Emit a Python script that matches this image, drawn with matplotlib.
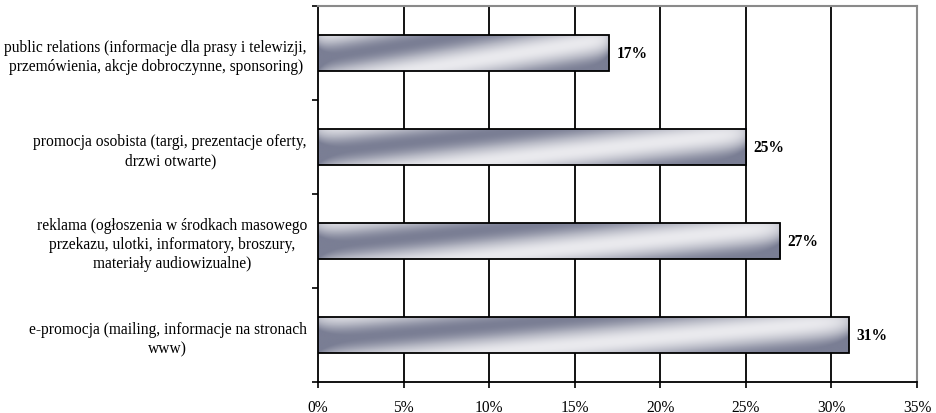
import numpy as np
import matplotlib
matplotlib.use("Agg")
import matplotlib.pyplot as plt
from matplotlib.patches import Rectangle

categories = [
    "public relations (informacje dla prasy i telewizji,\nprzemówienia, akcje dobroczynne, sponsoring)",
    "promocja osobista (targi, prezentacje oferty,\ndrzwi otwarte)",
    "reklama (ogłoszenia w środkach masowego\nprzekazu, ulotki, informatory, broszury,\nmateriały audiowizualne)",
    "e-promocja (mailing, informacje na stronach\nwww)",
]
values = [17, 25, 27, 31]
xticks = [0, 5, 10, 15, 20, 25, 30, 35]
xticklabels = [f"{v}%" for v in xticks]

plt.rcParams['font.family'] = ['Liberation Serif', 'DejaVu Serif']

fig = plt.figure(figsize=(9.36, 4.14), dpi=100)
ax = fig.add_axes([318/936, 1-383/414, (917-318)/936, (383-7)/414])

ypos = np.arange(len(categories))
h = 0.39

# gradient image (metallic diagonal sheen)
nu, nv = 400, 60
u = np.linspace(0, 1, nu)[None, :]
v = np.linspace(1, 0, nv)[:, None]  # row0 = top
phase = (v - 1.3*u - 0.33) / 1.5
t = 0.5 + 0.5*np.cos(2*np.pi*phase)   # 1 at dark band center
edge = np.exp(-u/0.02) + np.exp(-(1-u)/0.02)
t = np.clip(t + 0.35*edge, 0, 1)
light = np.array([0xea, 0xea, 0xee]) / 255
mid = np.array([0xb6, 0xb8, 0xc4]) / 255
dark = np.array([0x7a, 0x7e, 0x94]) / 255
tt = t[..., None]
img = np.where(tt < 0.5,
               light + (mid - light) * (tt / 0.5),
               mid + (dark - mid) * ((tt - 0.5) / 0.5))

for y, val in zip(ypos, values):
    rect = Rectangle((0, y-h/2), val, h, facecolor='none', edgecolor='black', lw=1.3, zorder=4)
    ax.add_patch(rect)
    im = ax.imshow(img, extent=[0, val, y+h/2, y-h/2], origin='upper', aspect='auto',
                   interpolation='bilinear', zorder=3)
    im.set_clip_path(rect)
    ax.text(val + 0.45, y, f"{val}%", ha='left', va='center', fontsize=11.2, fontweight='bold', zorder=5)

ax.set_xlim(0, 35)
ax.set_ylim(len(categories)-0.5, -0.5)
ax.set_aspect('auto')

for xv in xticks[1:-1]:
    ax.axvline(xv, color='black', lw=1.3, zorder=1)

ax.set_xticks(xticks)
ax.set_xticklabels(xticklabels, fontsize=11.2)
ax.set_yticks(ypos)
ax.set_yticklabels(categories, fontsize=11.2, multialignment='center', linespacing=1.25)
ax.set_yticks(np.arange(-0.5, len(categories)), minor=True)
ax.tick_params(axis='y', which='major', length=0, pad=8)
ax.tick_params(axis='y', which='minor', length=4, width=1.2, direction='out')
ax.tick_params(axis='x', which='major', length=4, width=1.2, direction='out', pad=8)

ax.spines['left'].set_linewidth(1.3)
ax.spines['bottom'].set_linewidth(1.3)
ax.spines['top'].set_color('#8a8a8a')
ax.spines['right'].set_color('#8a8a8a')
ax.spines['top'].set_linewidth(1.5)
ax.spines['right'].set_linewidth(1.5)

fig.savefig("out.png", dpi=100)
